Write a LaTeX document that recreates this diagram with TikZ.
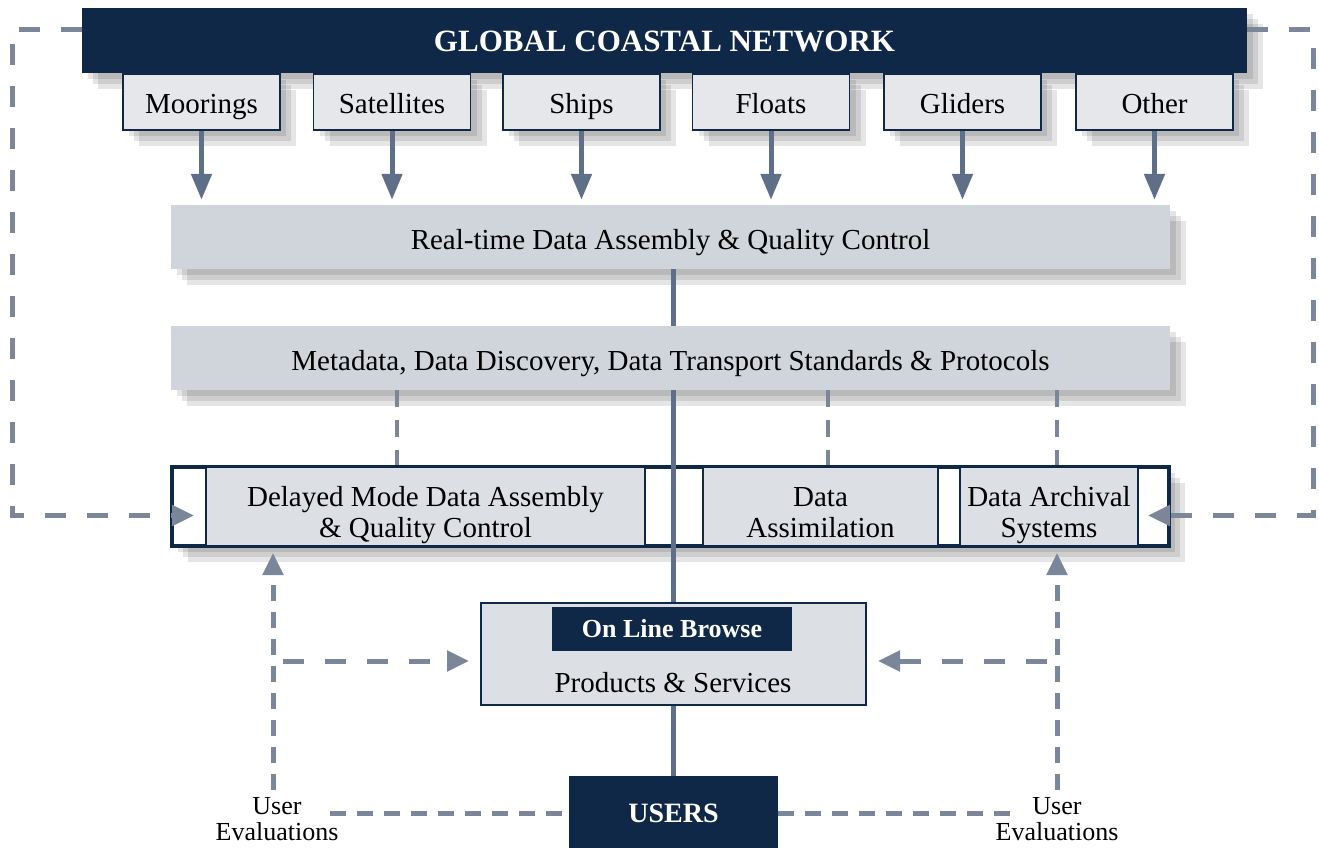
\documentclass[tikz,border=0pt]{standalone}
\usepackage{fontspec}
\setmainfont{Liberation Serif}
\usetikzlibrary{arrows.meta,shadows,positioning}
\definecolor{navy}{HTML}{0F2848}
\definecolor{slate}{HTML}{5F6F88}
\definecolor{dashgray}{HTML}{7B8799}
\definecolor{srcgray}{HTML}{E6E7EB}
\definecolor{bandgray}{HTML}{D0D4DB}
\definecolor{cellgray}{HTML}{DCDFE3}
\newcommand{\bodyfont}{\fontsize{29}{31}\selectfont}
\tikzset{
  softshadow/.style={general shadow={fill=black,opacity=.10,shadow xshift=6pt,shadow yshift=-6pt},
                     general shadow={fill=black,opacity=.10,shadow xshift=11pt,shadow yshift=-11pt},
                     general shadow={fill=black,opacity=.10,shadow xshift=16pt,shadow yshift=-16pt}},
  hdrbox/.style={fill=navy,text=white,font=\fontsize{31}{33}\selectfont\bfseries,
                 minimum width=1165pt,minimum height=65pt,inner sep=0pt,
                 text height=25pt,text depth=2pt,softshadow},
  srcbox/.style={fill=srcgray,draw=navy,line width=1.5pt,minimum width=157pt,
                 minimum height=56pt,inner sep=0pt,font=\bodyfont,
                 text height=26pt,text depth=3pt,softshadow},
  bandbox/.style={fill=bandgray,minimum width=999pt,minimum height=64pt,inner sep=0pt,
                  font=\bodyfont,text height=27pt,text depth=2pt,softshadow},
  framebox/.style={draw=navy,line width=4pt,fill=white,minimum width=997pt,
                   minimum height=79pt,inner sep=0pt,softshadow},
  cellbox/.style={fill=cellgray,draw=navy,line width=2pt,minimum height=79pt,inner sep=0pt,
                  align=center,font=\bodyfont,text height=62pt,text depth=0pt},
  darkbox/.style={fill=navy,text=white,inner sep=0pt},
  evaltxt/.style={font=\fontsize{26}{26}\selectfont,align=center,inner sep=0pt},
  feed/.style={slate,line width=5pt,-{Triangle[width=20pt,length=26pt]}},
  trunk/.style={slate,line width=5pt},
  longdash/.style={dashgray,line width=5pt,dash pattern=on 21pt off 21pt},
  middash/.style={dashgray,line width=5pt,dash pattern=on 16pt off 11pt},
  tapdash/.style={dashgray,line width=4pt,dash pattern=on 17pt off 13pt},
  dashtip/.style={-{Triangle[width=20pt,length=22pt]}}
}

\begin{document}
\begin{tikzpicture}[x=1pt, y=-1pt] % {{{
\useasboundingbox (0,0) rectangle (1319,848);
\coordinate (lTop) at (12,30);
\coordinate (rTop) at (1313,30);
\coordinate (lEval) at (273,790);
\coordinate (rEval) at (1057,790);
% Network and sources {{{
\node[hdrbox] (hdr) at (664.5,40.5) {GLOBAL COASTAL NETWORK};
\foreach \nm/\xc/\txt in {moor/201.5/Moorings, sat/392/Satellites, ship/581.5/Ships,
                          float/771/Floats, glid/962.5/Gliders, oth/1154.5/Other} {
  \node[srcbox] (\nm) at (\xc,102) {\txt};
}
% }}}
% Bands {{{
\node[bandbox] (rt) at (670.5,237) {Real-time Data Assembly \& Quality Control};
\node[bandbox] (md) at (670.5,358) {Metadata, Data Discovery, Data Transport Standards \& Protocols};
\foreach \nm in {moor,sat,ship,float,glid,oth}
  \draw[feed,shorten >=5pt] (\nm.south) -- (\nm.south |- rt.north);
% }}}
% Delayed mode bar {{{
\node[framebox] (bar) at (670.5,506.5) {};
\node[cellbox,minimum width=439pt] (dm) at (425.5,506.5) {Delayed Mode Data Assembly\\\& Quality Control};
\node[cellbox,minimum width=235pt] (da) at (820.5,506.5) {Data\\Assimilation};
\node[cellbox,minimum width=178pt] (ar) at (1049,506.5) {Data Archival\\Systems};
\coordinate (dmIn) at ([yshift=-9pt]dm.west);
\coordinate (arIn) at ([yshift=-9pt]ar.east);
\foreach \xx/\nm in {397/a,828/b,1057/c} {
  \coordinate (tap\nm) at (\xx,0);
  \draw[tapdash] (md.south -| tap\nm) -- (bar.north -| tap\nm);
}
% \draw[trunk] (md.south) -- (bar.north);
% }}}
% Feedback loop {{{
\draw[longdash,dashtip,shorten >=11pt] (hdr.west |- lTop) -- (lTop) -- (lTop |- dmIn) -- (dmIn);
\draw[longdash,dashtip,shorten >=9pt] (hdr.east |- rTop) -- (rTop) -- (rTop |- arIn) -- (arIn);
% }}}
% Browse, users {{{
\node[fill=cellgray,draw=navy,line width=2pt,minimum width=385pt,minimum height=102pt,inner sep=0pt]
  (olb) at (673.5,654) {};
\draw[trunk] (rt.south -| olb) -- (md.north -| olb);
\draw[trunk] (md.south -| olb) -- (olb.north);
\node[darkbox,minimum width=240pt,minimum height=44pt,font=\fontsize{26}{28}\selectfont\bfseries]
  (tag) at (672,629) {On Line Browse};
\node[inner sep=0pt,font=\bodyfont] (prod) at (673,683) {Products \& Services};
\node[darkbox,minimum width=209pt,minimum height=74pt,font=\fontsize{28}{30}\selectfont\bfseries]
  (users) at (673.5,813) {USERS};
\draw[trunk] (olb.south) -- (users.north);
\coordinate (olbL) at ([yshift=-7pt]olb.west);
\coordinate (olbR) at ([yshift=-7pt]olb.east);
\node[evaltxt] (ueL) at (277,819) {User\\Evaluations};
\node[evaltxt] (ueR) at (1057,819) {User\\Evaluations};
\coordinate (lFoot) at (330,813);
\coordinate (rFoot) at (1015,813);
\draw[middash] (lFoot) -- (users.west);
\draw[middash] (users.east) -- (rFoot);
\draw[middash,dashtip,shorten >=6pt] (lEval) -- (dm.south -| lEval);
\draw[middash,dashtip,shorten >=6pt] (rEval) -- (ar.south -| rEval);
\draw[longdash,dashtip,shorten >=11pt] ([xshift=10pt]lEval |- olbL) -- (olbL);
\draw[longdash,dashtip,shorten >=11pt] ([xshift=-10pt]rEval |- olbR) -- (olbR);
% }}}
\end{tikzpicture} % }}}
\end{document}
